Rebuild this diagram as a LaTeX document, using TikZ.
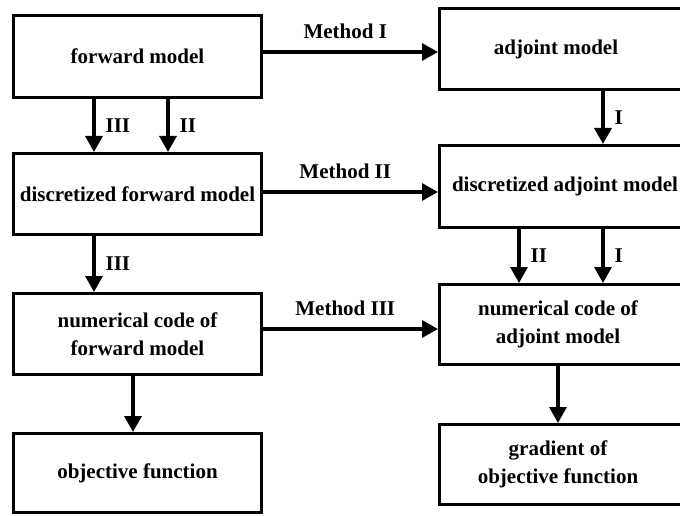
\documentclass[tikz,border=0pt]{standalone}
\usepackage{fontspec}
\setmainfont{Liberation Serif}
\usetikzlibrary{arrows.meta}
\tikzset{
  txt/.style={font=\fontsize{21}{28.5}\selectfont\bfseries, align=center},
  lbox/.style={draw, line width=3.2pt, minimum width=247.8pt, inner sep=0pt, txt},
  rbox/.style={draw, line width=3.2pt, minimum width=320pt, anchor=west, inner sep=0pt},
  arr/.style={line width=3.2pt, -{Triangle[length=16pt,width=17pt]}},
  vlab/.style={midway, right=10pt, inner sep=0pt, txt},
  hlab/.style={pos=0.47, above=12pt, inner sep=0pt, txt}
}
\begin{document}
\begin{tikzpicture}[x=1pt,y=-1pt]
\useasboundingbox (0,0) rectangle (680,516);
\clip (0,0) rectangle (680,516);
\fill[white] (0,0) rectangle (680,516);
% left column
\node[lbox, minimum height=81.8pt] (L1) at (137.5,56.5) {forward model};
\node[lbox, minimum height=80.8pt] (L2) at (137.5,194) {discretized forward model};
\node[lbox, minimum height=80.8pt] (L3) at (137.5,334) {numerical code of\\forward model};
\node[lbox, minimum height=78.8pt] (L4) at (137.5,473) {objective function};
% right column boxes
\node[rbox, minimum height=80.8pt] (R1) at (438,49) {};
\node[rbox, minimum height=81.8pt] (R2) at (438,186.5) {};
\node[rbox, minimum height=79.8pt] (R3) at (438,324.5) {};
\node[rbox, minimum height=79.8pt] (R4) at (438,464.5) {};
% right column texts
\node[txt] (T1) at (556,49) {adjoint model};
\node[txt] (T2) at (565,186.5) {discretized adjoint model};
\node[txt] (T3) at (558,324.5) {numerical code of\\adjoint model};
\node[txt] (T4) at (558,464.5) {gradient of\\objective function};
% vertical arrows left
\draw[arr] (L1.south -| 94,0) -- (L2.north -| 94,0) node[vlab] {III};
\draw[arr] (L1.south -| 168,0) -- (L2.north -| 168,0) node[vlab] {II};
\draw[arr] (L2.south -| 94,0) -- (L3.north -| 94,0) node[vlab] {III};
\draw[arr] (L3.south -| 133,0) -- (L4.north -| 133,0);
% vertical arrows right
\draw[arr] (R1.south -| 603,0) -- (R2.north -| 603,0) node[vlab] {I};
\draw[arr] (R2.south -| 519,0) -- (R3.north -| 519,0) node[vlab] {II};
\draw[arr] (R2.south -| 603,0) -- (R3.north -| 603,0) node[vlab] {I};
\draw[arr] (R3.south -| 558,0) -- (R4.north -| 558,0);
% horizontal arrows
\draw[arr] (L1.east |- 0,52) -- (R1.west |- 0,52) node[hlab] {Method I};
\draw[arr] (L2.east |- 0,192) -- (R2.west |- 0,192) node[hlab] {Method II};
\draw[arr] (L3.east |- 0,329) -- (R3.west |- 0,329) node[hlab] {Method III};
\end{tikzpicture}
\end{document}
